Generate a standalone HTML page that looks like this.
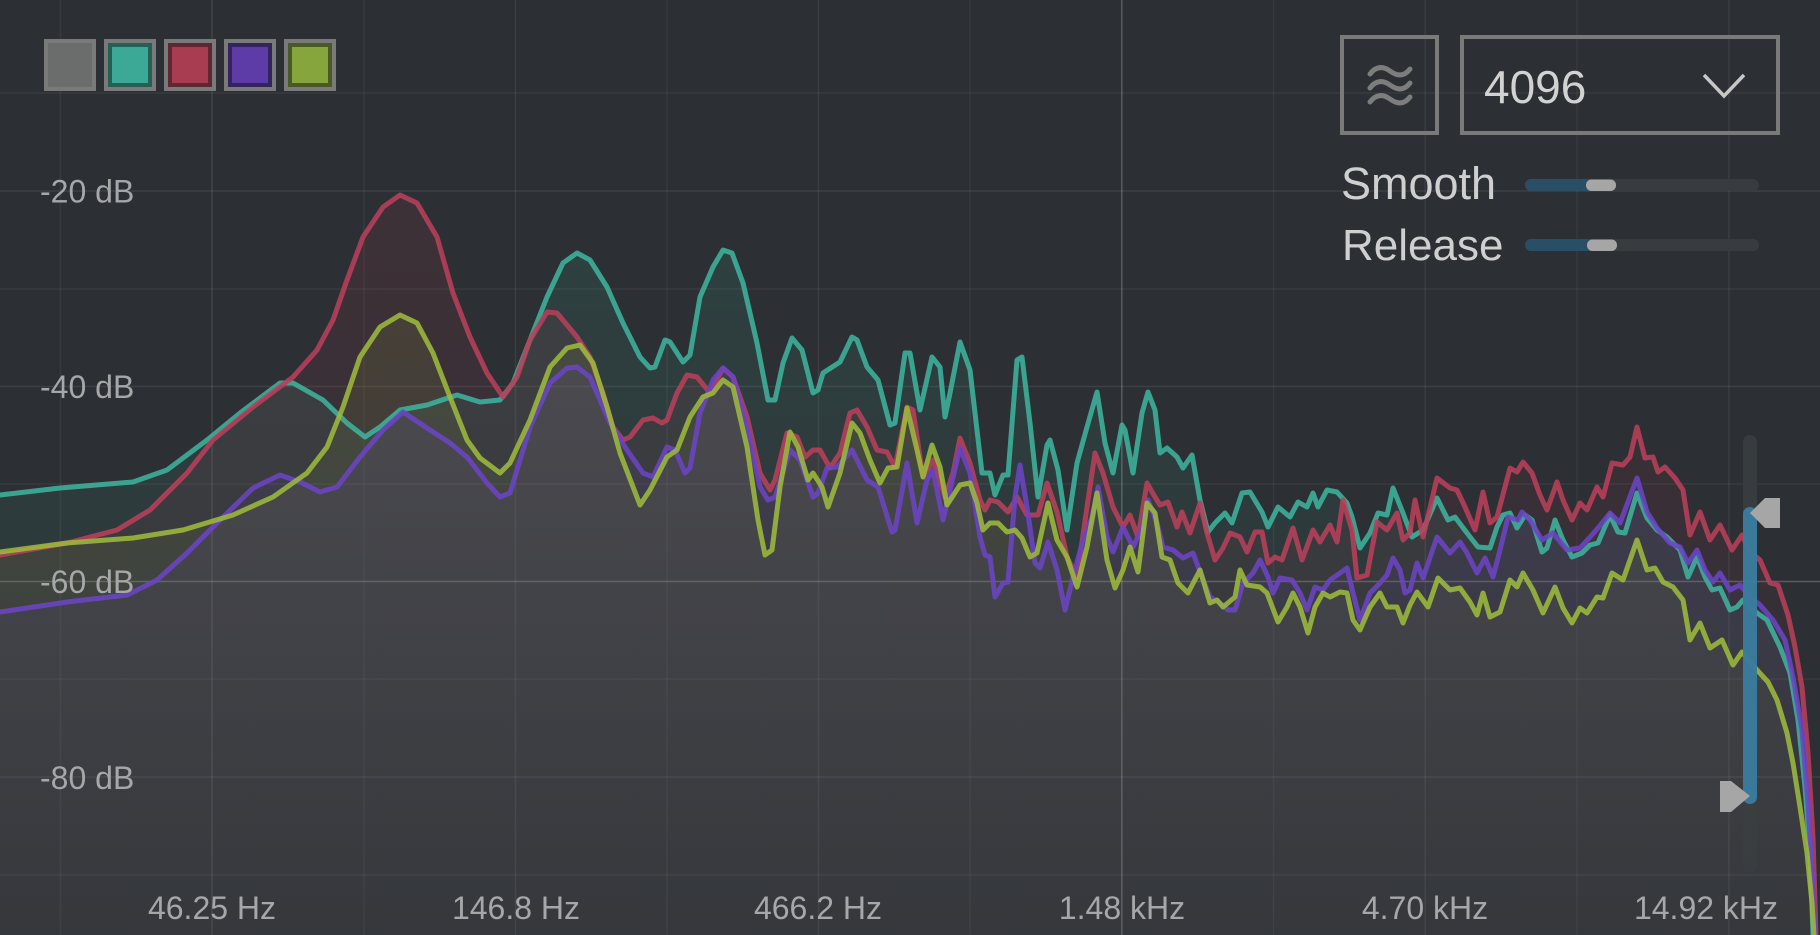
<!DOCTYPE html>
<html>
<head>
<meta charset="utf-8">
<style>
html,body{margin:0;padding:0;background:#2c2f33;}
svg{display:block;}
text{font-family:"Liberation Sans",sans-serif;}
</style>
</head>
<body>
<svg width="1820" height="935" viewBox="0 0 1820 935" xmlns="http://www.w3.org/2000/svg">
<defs>
<linearGradient id="gT" gradientUnits="userSpaceOnUse" x1="0" y1="250" x2="0" y2="935"><stop offset="0" stop-color="#3bb09a" stop-opacity="0.13"/><stop offset="1" stop-color="#3bb09a" stop-opacity="0.03"/></linearGradient>
<linearGradient id="gR" gradientUnits="userSpaceOnUse" x1="0" y1="250" x2="0" y2="935"><stop offset="0" stop-color="#b03c55" stop-opacity="0.13"/><stop offset="1" stop-color="#b03c55" stop-opacity="0.03"/></linearGradient>
<linearGradient id="gG" gradientUnits="userSpaceOnUse" x1="0" y1="250" x2="0" y2="935"><stop offset="0" stop-color="#8fb03a" stop-opacity="0.13"/><stop offset="1" stop-color="#8fb03a" stop-opacity="0.03"/></linearGradient>
<linearGradient id="gP" gradientUnits="userSpaceOnUse" x1="0" y1="250" x2="0" y2="935"><stop offset="0" stop-color="#6b44c4" stop-opacity="0.13"/><stop offset="1" stop-color="#6b44c4" stop-opacity="0.03"/></linearGradient>
</defs>
<rect x="0" y="0" width="1820" height="935" fill="#2c2f33"/>

<!-- grid -->
<g stroke="#ffffff" stroke-width="1.5">
<line x1="0" y1="93" x2="1820" y2="93" stroke-opacity="0.06"/>
<line x1="0" y1="191" x2="1820" y2="191" stroke-opacity="0.08"/>
<line x1="0" y1="289" x2="1820" y2="289" stroke-opacity="0.06"/>
<line x1="0" y1="386.5" x2="1820" y2="386.5" stroke-opacity="0.08"/>
<line x1="0" y1="484" x2="1820" y2="484" stroke-opacity="0.06"/>
<line x1="0" y1="581.5" x2="1820" y2="581.5" stroke-opacity="0.22"/>
<line x1="0" y1="679" x2="1820" y2="679" stroke-opacity="0.06"/>
<line x1="0" y1="777" x2="1820" y2="777" stroke-opacity="0.08"/>
<line x1="0" y1="875" x2="1820" y2="875" stroke-opacity="0.06"/>
<line x1="60.4" y1="0" x2="60.4" y2="935" stroke-opacity="0.05"/>
<line x1="212" y1="0" x2="212" y2="935" stroke-opacity="0.1"/>
<line x1="364" y1="0" x2="364" y2="935" stroke-opacity="0.05"/>
<line x1="515.5" y1="0" x2="515.5" y2="935" stroke-opacity="0.07"/>
<line x1="667" y1="0" x2="667" y2="935" stroke-opacity="0.05"/>
<line x1="818.5" y1="0" x2="818.5" y2="935" stroke-opacity="0.07"/>
<line x1="970" y1="0" x2="970" y2="935" stroke-opacity="0.05"/>
<line x1="1121.8" y1="0" x2="1121.8" y2="935" stroke-opacity="0.22"/>
<line x1="1273.5" y1="0" x2="1273.5" y2="935" stroke-opacity="0.05"/>
<line x1="1425.2" y1="0" x2="1425.2" y2="935" stroke-opacity="0.07"/>
<line x1="1577" y1="0" x2="1577" y2="935" stroke-opacity="0.05"/>
<line x1="1729" y1="0" x2="1729" y2="935" stroke-opacity="0.07"/>
</g>

<!-- fills -->
<polygon fill="url(#gT)" points="0,495 60,488 133,482 167,470 207,440 240,413 280,383 293,383 323,400 347,423 365,437 380,427 400,410 427,405 457,395 480,402 500,400 513,383 530,340 547,297 563,263 577,253 590,260 607,287 623,323 640,357 650,368 655,367 665,340 670,342 683,362 690,355 700,297 713,267 723,250 732,253 743,283 757,343 768,400 775,400 783,363 792,338 802,350 813,393 818,390 823,373 840,362 852,337 857,340 867,367 878,380 890,425 895,423 905,353 910,353 920,410 932,357 940,367 945,417 950,393 960,342 970,370 982,473 990,473 995,495 1003,475 1008,475 1017,360 1022,357 1030,423 1038,497 1047,445 1050,440 1058,470 1067,530 1077,463 1087,427 1097,392 1105,443 1113,473 1122,425 1125,430 1133,473 1142,413 1148,392 1155,410 1160,453 1167,448 1177,457 1183,468 1192,455 1200,500 1208,532 1215,523 1225,513 1232,523 1242,493 1250,492 1262,512 1268,527 1278,507 1290,517 1298,502 1307,507 1313,493 1318,507 1327,490 1337,492 1347,503 1352,517 1360,548 1370,533 1378,513 1387,515 1393,488 1403,513 1412,537 1423,530 1437,498 1448,520 1455,517 1467,533 1478,547 1490,548 1497,527 1503,515 1510,513 1517,528 1525,515 1532,520 1542,552 1547,548 1555,520 1563,540 1572,557 1582,553 1590,545 1598,543 1610,515 1618,532 1625,533 1637,493 1647,518 1657,530 1667,537 1680,550 1688,577 1697,557 1705,577 1712,590 1720,588 1730,610 1737,607 1743,600 1757,613 1767,620 1780,647 1790,673 1798,720 1805,787 1810,853 1813,935 0,935"/>
<polygon fill="url(#gR)" points="0,555 67,543 117,530 150,510 187,473 213,440 253,407 293,377 317,350 333,320 347,280 363,237 383,207 400,195 417,203 437,237 453,293 470,337 487,373 503,397 517,377 530,340 547,312 557,313 577,337 590,357 603,393 613,427 623,440 630,437 643,420 653,418 662,423 667,420 677,393 687,375 697,377 710,393 723,368 733,377 747,417 760,473 770,490 775,480 787,433 797,437 805,457 813,450 820,450 830,468 840,453 850,413 857,410 867,427 877,450 887,452 895,467 907,407 913,410 923,477 933,460 945,497 953,473 960,438 970,463 980,500 985,510 990,500 998,502 1008,512 1017,497 1027,515 1038,515 1047,483 1057,512 1067,557 1077,577 1087,507 1095,453 1103,473 1113,507 1123,527 1130,515 1138,537 1147,483 1155,497 1160,505 1168,502 1177,527 1182,512 1190,533 1200,503 1207,533 1215,560 1223,548 1230,533 1240,537 1247,552 1255,532 1262,532 1268,563 1275,557 1282,560 1293,528 1302,560 1313,530 1320,542 1330,525 1337,542 1343,500 1352,530 1357,578 1367,575 1377,522 1387,530 1397,513 1403,540 1410,533 1415,500 1423,537 1437,478 1450,488 1457,490 1465,507 1475,530 1483,492 1490,523 1497,517 1510,468 1517,472 1523,462 1532,473 1540,495 1547,510 1557,482 1563,500 1572,520 1580,503 1587,510 1597,487 1603,497 1612,463 1623,465 1630,457 1637,427 1645,458 1653,457 1658,472 1665,467 1675,478 1683,490 1690,535 1700,512 1710,540 1720,525 1732,550 1742,535 1750,552 1760,560 1770,583 1778,585 1788,615 1795,647 1802,687 1808,753 1813,837 1816,935 0,935"/>
<polygon fill="url(#gG)" points="0,552 67,543 133,538 183,530 233,515 273,497 307,473 327,447 343,407 360,357 380,327 400,315 417,323 433,353 450,397 467,440 480,458 500,473 510,463 530,420 550,367 567,348 580,345 593,363 607,407 620,453 640,505 650,490 667,457 677,450 690,417 703,397 713,393 723,380 733,387 747,447 758,520 765,555 772,550 780,487 790,432 798,447 808,480 813,473 822,487 828,507 840,473 852,423 860,433 870,460 880,483 888,468 897,467 907,408 917,450 923,477 932,445 940,467 947,505 960,485 970,483 977,503 983,530 990,523 998,523 1007,532 1015,530 1022,538 1030,557 1037,553 1048,503 1057,540 1067,557 1077,587 1087,547 1097,493 1107,560 1115,588 1123,570 1130,547 1138,572 1147,503 1155,513 1162,557 1170,560 1178,583 1188,593 1200,570 1210,603 1217,600 1223,607 1235,597 1240,570 1247,585 1260,587 1267,593 1278,622 1287,607 1293,593 1300,607 1308,633 1315,607 1323,593 1330,597 1340,592 1347,593 1353,620 1360,630 1370,607 1380,593 1387,607 1397,607 1403,623 1410,605 1417,592 1428,607 1438,578 1450,590 1460,588 1470,602 1477,615 1483,593 1490,617 1500,612 1510,580 1517,587 1523,573 1533,590 1543,613 1555,587 1563,608 1572,623 1580,608 1587,613 1597,597 1603,598 1612,573 1623,580 1637,540 1647,570 1655,568 1663,582 1673,587 1683,600 1690,640 1700,623 1710,648 1722,640 1733,665 1742,652 1757,670 1768,682 1777,700 1787,733 1793,763 1800,807 1807,853 1812,903 1814,935 0,935"/>
<polygon fill="url(#gP)" points="0,612 67,602 127,595 157,580 187,553 217,523 253,488 280,475 300,482 320,492 337,487 360,457 383,430 403,412 430,430 450,443 467,457 487,483 500,497 510,493 530,427 550,383 567,368 577,367 590,377 610,423 627,450 643,473 653,477 667,447 675,450 685,473 690,468 700,413 713,380 723,368 733,377 747,427 760,487 768,500 775,497 790,450 800,460 813,497 818,493 827,468 837,467 852,450 867,480 878,487 892,532 895,530 907,463 917,523 927,480 933,470 943,520 960,448 970,473 980,537 985,555 990,557 995,597 1003,583 1008,582 1015,497 1020,465 1027,507 1035,563 1040,568 1048,542 1057,570 1065,610 1073,577 1083,540 1092,517 1098,487 1107,537 1113,552 1123,527 1133,547 1142,528 1148,500 1157,523 1163,547 1173,550 1183,558 1193,553 1202,577 1210,597 1220,603 1228,610 1235,610 1243,583 1253,573 1260,560 1268,577 1273,593 1280,578 1292,580 1300,593 1307,610 1315,587 1323,590 1330,580 1340,573 1347,568 1353,593 1360,620 1370,593 1380,583 1387,575 1393,558 1400,570 1405,593 1410,590 1417,563 1423,578 1437,537 1450,553 1460,542 1467,553 1477,573 1485,558 1493,577 1500,550 1508,517 1518,520 1522,512 1530,520 1542,540 1553,533 1567,550 1580,548 1590,537 1598,528 1610,513 1620,523 1637,478 1647,512 1657,528 1670,543 1680,547 1688,563 1697,550 1705,570 1713,582 1720,573 1730,590 1740,585 1750,597 1760,605 1773,620 1785,640 1793,677 1802,730 1808,803 1813,887 1815,935 0,935"/>

<!-- lines -->
<g fill="none" stroke-width="5" stroke-linejoin="round" stroke-linecap="round" stroke-opacity="0.88">
<polyline stroke="#3db39d" points="0,495 60,488 133,482 167,470 207,440 240,413 280,383 293,383 323,400 347,423 365,437 380,427 400,410 427,405 457,395 480,402 500,400 513,383 530,340 547,297 563,263 577,253 590,260 607,287 623,323 640,357 650,368 655,367 665,340 670,342 683,362 690,355 700,297 713,267 723,250 732,253 743,283 757,343 768,400 775,400 783,363 792,338 802,350 813,393 818,390 823,373 840,362 852,337 857,340 867,367 878,380 890,425 895,423 905,353 910,353 920,410 932,357 940,367 945,417 950,393 960,342 970,370 982,473 990,473 995,495 1003,475 1008,475 1017,360 1022,357 1030,423 1038,497 1047,445 1050,440 1058,470 1067,530 1077,463 1087,427 1097,392 1105,443 1113,473 1122,425 1125,430 1133,473 1142,413 1148,392 1155,410 1160,453 1167,448 1177,457 1183,468 1192,455 1200,500 1208,532 1215,523 1225,513 1232,523 1242,493 1250,492 1262,512 1268,527 1278,507 1290,517 1298,502 1307,507 1313,493 1318,507 1327,490 1337,492 1347,503 1352,517 1360,548 1370,533 1378,513 1387,515 1393,488 1403,513 1412,537 1423,530 1437,498 1448,520 1455,517 1467,533 1478,547 1490,548 1497,527 1503,515 1510,513 1517,528 1525,515 1532,520 1542,552 1547,548 1555,520 1563,540 1572,557 1582,553 1590,545 1598,543 1610,515 1618,532 1625,533 1637,493 1647,518 1657,530 1667,537 1680,550 1688,577 1697,557 1705,577 1712,590 1720,588 1730,610 1737,607 1743,600 1757,613 1767,620 1780,647 1790,673 1798,720 1805,787 1810,853 1813,935"/>
<polyline stroke="#b8405a" points="0,555 67,543 117,530 150,510 187,473 213,440 253,407 293,377 317,350 333,320 347,280 363,237 383,207 400,195 417,203 437,237 453,293 470,337 487,373 503,397 517,377 530,340 547,312 557,313 577,337 590,357 603,393 613,427 623,440 630,437 643,420 653,418 662,423 667,420 677,393 687,375 697,377 710,393 723,368 733,377 747,417 760,473 770,490 775,480 787,433 797,437 805,457 813,450 820,450 830,468 840,453 850,413 857,410 867,427 877,450 887,452 895,467 907,407 913,410 923,477 933,460 945,497 953,473 960,438 970,463 980,500 985,510 990,500 998,502 1008,512 1017,497 1027,515 1038,515 1047,483 1057,512 1067,557 1077,577 1087,507 1095,453 1103,473 1113,507 1123,527 1130,515 1138,537 1147,483 1155,497 1160,505 1168,502 1177,527 1182,512 1190,533 1200,503 1207,533 1215,560 1223,548 1230,533 1240,537 1247,552 1255,532 1262,532 1268,563 1275,557 1282,560 1293,528 1302,560 1313,530 1320,542 1330,525 1337,542 1343,500 1352,530 1357,578 1367,575 1377,522 1387,530 1397,513 1403,540 1410,533 1415,500 1423,537 1437,478 1450,488 1457,490 1465,507 1475,530 1483,492 1490,523 1497,517 1510,468 1517,472 1523,462 1532,473 1540,495 1547,510 1557,482 1563,500 1572,520 1580,503 1587,510 1597,487 1603,497 1612,463 1623,465 1630,457 1637,427 1645,458 1653,457 1658,472 1665,467 1675,478 1683,490 1690,535 1700,512 1710,540 1720,525 1732,550 1742,535 1750,552 1760,560 1770,583 1778,585 1788,615 1795,647 1802,687 1808,753 1813,837 1816,935"/>
<polyline stroke="#6b44c4" points="0,612 67,602 127,595 157,580 187,553 217,523 253,488 280,475 300,482 320,492 337,487 360,457 383,430 403,412 430,430 450,443 467,457 487,483 500,497 510,493 530,427 550,383 567,368 577,367 590,377 610,423 627,450 643,473 653,477 667,447 675,450 685,473 690,468 700,413 713,380 723,368 733,377 747,427 760,487 768,500 775,497 790,450 800,460 813,497 818,493 827,468 837,467 852,450 867,480 878,487 892,532 895,530 907,463 917,523 927,480 933,470 943,520 960,448 970,473 980,537 985,555 990,557 995,597 1003,583 1008,582 1015,497 1020,465 1027,507 1035,563 1040,568 1048,542 1057,570 1065,610 1073,577 1083,540 1092,517 1098,487 1107,537 1113,552 1123,527 1133,547 1142,528 1148,500 1157,523 1163,547 1173,550 1183,558 1193,553 1202,577 1210,597 1220,603 1228,610 1235,610 1243,583 1253,573 1260,560 1268,577 1273,593 1280,578 1292,580 1300,593 1307,610 1315,587 1323,590 1330,580 1340,573 1347,568 1353,593 1360,620 1370,593 1380,583 1387,575 1393,558 1400,570 1405,593 1410,590 1417,563 1423,578 1437,537 1450,553 1460,542 1467,553 1477,573 1485,558 1493,577 1500,550 1508,517 1518,520 1522,512 1530,520 1542,540 1553,533 1567,550 1580,548 1590,537 1598,528 1610,513 1620,523 1637,478 1647,512 1657,528 1670,543 1680,547 1688,563 1697,550 1705,570 1713,582 1720,573 1730,590 1740,585 1750,597 1760,605 1773,620 1785,640 1793,677 1802,730 1808,803 1813,887 1815,935"/>
<polyline stroke="#9cba3c" points="0,552 67,543 133,538 183,530 233,515 273,497 307,473 327,447 343,407 360,357 380,327 400,315 417,323 433,353 450,397 467,440 480,458 500,473 510,463 530,420 550,367 567,348 580,345 593,363 607,407 620,453 640,505 650,490 667,457 677,450 690,417 703,397 713,393 723,380 733,387 747,447 758,520 765,555 772,550 780,487 790,432 798,447 808,480 813,473 822,487 828,507 840,473 852,423 860,433 870,460 880,483 888,468 897,467 907,408 917,450 923,477 932,445 940,467 947,505 960,485 970,483 977,503 983,530 990,523 998,523 1007,532 1015,530 1022,538 1030,557 1037,553 1048,503 1057,540 1067,557 1077,587 1087,547 1097,493 1107,560 1115,588 1123,570 1130,547 1138,572 1147,503 1155,513 1162,557 1170,560 1178,583 1188,593 1200,570 1210,603 1217,600 1223,607 1235,597 1240,570 1247,585 1260,587 1267,593 1278,622 1287,607 1293,593 1300,607 1308,633 1315,607 1323,593 1330,597 1340,592 1347,593 1353,620 1360,630 1370,607 1380,593 1387,607 1397,607 1403,623 1410,605 1417,592 1428,607 1438,578 1450,590 1460,588 1470,602 1477,615 1483,593 1490,617 1500,612 1510,580 1517,587 1523,573 1533,590 1543,613 1555,587 1563,608 1572,623 1580,608 1587,613 1597,597 1603,598 1612,573 1623,580 1637,540 1647,570 1655,568 1663,582 1673,587 1683,600 1690,640 1700,623 1710,648 1722,640 1733,665 1742,652 1757,670 1768,682 1777,700 1787,733 1793,763 1800,807 1807,853 1812,903 1814,935"/>
</g>

<!-- axis labels -->
<g fill="#a6a7a8" font-size="32">
<text x="40" y="202.5">-20 dB</text>
<text x="40" y="398">-40 dB</text>
<text x="40" y="593">-60 dB</text>
<text x="40" y="789">-80 dB</text>
</g>
<g fill="#a6a7a8" font-size="32" text-anchor="middle">
<text x="212" y="919">46.25 Hz</text>
<text x="516" y="919">146.8 Hz</text>
<text x="818" y="919">466.2 Hz</text>
<text x="1122" y="919">1.48 kHz</text>
<text x="1425" y="919">4.70 kHz</text>
<text x="1706" y="919">14.92 kHz</text>
</g>

<!-- legend -->
<g>
<rect x="44" y="39" width="52" height="52" fill="#7a7a7a"/><rect x="48" y="43" width="44" height="44" fill="#6b6c6c"/>
<rect x="104" y="39" width="52" height="52" fill="#7a7a7a"/><rect x="108" y="43" width="44" height="44" fill="#265f56"/><rect x="112" y="47" width="36" height="36" fill="#3ba995"/>
<rect x="164" y="39" width="52" height="52" fill="#7a7a7a"/><rect x="168" y="43" width="44" height="44" fill="#5e2833"/><rect x="172" y="47" width="36" height="36" fill="#a83c50"/>
<rect x="224" y="39" width="52" height="52" fill="#7a7a7a"/><rect x="228" y="43" width="44" height="44" fill="#33245e"/><rect x="232" y="47" width="36" height="36" fill="#5e3ca8"/>
<rect x="284" y="39" width="52" height="52" fill="#7a7a7a"/><rect x="288" y="43" width="44" height="44" fill="#4a5a26"/><rect x="292" y="47" width="36" height="36" fill="#86a53c"/>
</g>

<!-- top right controls -->
<rect x="1342" y="37" width="95" height="96" fill="none" stroke="#7a7a7a" stroke-width="4"/>
<g fill="none" stroke="#7d7d7d" stroke-width="5" stroke-linecap="round">
<path d="M1370,74 C1376,66 1383,66 1390,71 S1404,77 1410,69"/>
<path d="M1370,88 C1376,80 1383,80 1390,85 S1404,91 1410,83"/>
<path d="M1370,102 C1376,94 1383,94 1390,99 S1404,105 1410,97"/>
</g>
<rect x="1462" y="37" width="316" height="96" fill="none" stroke="#7a7a7a" stroke-width="4"/>
<text x="1484" y="103" font-size="46" fill="#d2d2d2">4096</text>
<polyline points="1704,75 1724,96 1744,75" fill="none" stroke="#c8c8c8" stroke-width="3.5"/>

<text x="1341" y="199" font-size="45" fill="#cfcfcf">Smooth</text>
<text x="1342" y="260" font-size="44" fill="#cfcfcf">Release</text>
<rect x="1525" y="179" width="234" height="12" rx="6" fill="#383c3f"/>
<rect x="1525" y="179" width="72" height="12" rx="6" fill="#2a4e66"/>
<rect x="1586" y="179.5" width="30" height="11.5" rx="5.5" fill="#a6a6a6"/>
<rect x="1525" y="239" width="234" height="12" rx="6" fill="#383c3f"/>
<rect x="1525" y="239" width="72" height="12" rx="6" fill="#2a4e66"/>
<rect x="1587" y="239.5" width="30" height="11.5" rx="5.5" fill="#a6a6a6"/>

<!-- vertical range slider -->
<rect x="1743" y="435" width="14" height="438" rx="7" fill="#3a3e41" fill-opacity="0.85"/>
<rect x="1743" y="507" width="14" height="297" rx="7" fill="#3c86ae" fill-opacity="0.82"/>
<polygon points="1750,513 1765,498 1780,498 1780,528 1765,528" fill="#a6a6a6"/>
<polygon points="1720,781 1731,781 1750,796 1731,812 1720,812" fill="#a6a6a6"/>
</svg>
</body>
</html>
